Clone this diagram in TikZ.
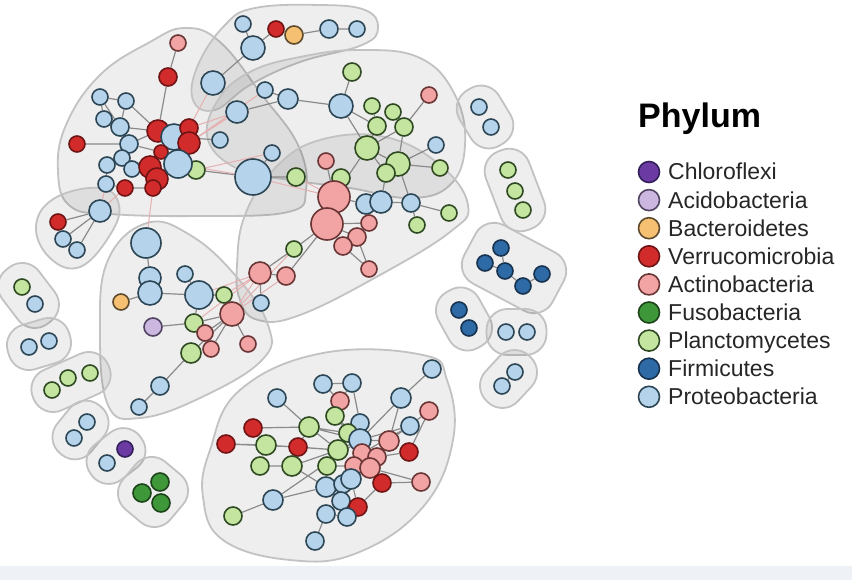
\documentclass[tikz,border=0pt]{standalone}
\usepackage{fontspec}
\newfontfamily\lgfont{Liberation Sans}
\pgfdeclarelayer{blobs}
\pgfdeclarelayer{edges}
\pgfsetlayers{blobs,edges,main}
\definecolor{cPB}{HTML}{B5D3EA}\definecolor{cPBd}{HTML}{2D4656}
\definecolor{cPL}{HTML}{C4E59F}\definecolor{cPLd}{HTML}{2F4A22}
\definecolor{cAC}{HTML}{F2A3A3}\definecolor{cACd}{HTML}{6A3535}
\definecolor{cVE}{HTML}{D22B2B}\definecolor{cVEd}{HTML}{6E1414}
\definecolor{cFI}{HTML}{2E6AA6}\definecolor{cFId}{HTML}{17324F}
\definecolor{cFU}{HTML}{3E983A}\definecolor{cFUd}{HTML}{1C431A}
\definecolor{cBA}{HTML}{F5C071}\definecolor{cBAd}{HTML}{5E4A2C}
\definecolor{cACI}{HTML}{CBB7DF}\definecolor{cACId}{HTML}{514462}
\definecolor{cCH}{HTML}{6B3AA3}\definecolor{cCHd}{HTML}{33205A}
\definecolor{cEdge}{HTML}{8A8A8A}\definecolor{cPinkEdge}{HTML}{E6B0B0}
\definecolor{cBand}{HTML}{EEF2F7}
\begin{document}
\begin{tikzpicture}[x=1pt,y=-1pt,
  nd/.style={circle,inner sep=0pt,minimum size=16pt,line width=1.6pt},
  sz/.style={minimum size=#1},
  pb/.style={nd,fill=cPB,draw=cPBd},
  pl/.style={nd,fill=cPL,draw=cPLd},
  ac/.style={nd,fill=cAC,draw=cACd},
  ve/.style={nd,fill=cVE,draw=cVEd},
  fi/.style={nd,fill=cFI,draw=cFId},
  fu/.style={nd,fill=cFU,draw=cFUd},
  ba/.style={nd,fill=cBA,draw=cBAd},
  aci/.style={nd,fill=cACI,draw=cACId},
  ch/.style={nd,fill=cCH,draw=cCHd},
  ed/.style={draw=cEdge,line width=1.2pt},
  pe/.style={draw=cPinkEdge,line width=1pt},
  blob/.style={fill=black,fill opacity=0.065,draw=black!24,line width=1.8pt},
  lg/.style={font=\lgfont\fontsize{23}{27}\selectfont,text=black!85,anchor=base west,inner sep=0pt}
]
\useasboundingbox (0,0) rectangle (852,580);
\fill[cBand] (0,566) rectangle (852,580);

% ---------------- nodes: cluster A
\node[ac,sz=16] (a1) at (178,43) {};
\node[ve,sz=18] (a2) at (168,77) {};
\node[pb,sz=16] (a3) at (100,97) {};
\node[pb,sz=16] (a4) at (126,101) {};
\node[pb,sz=16] (a5) at (104,119) {};
\node[pb,sz=18] (a6) at (120,127) {};
\node[ve,sz=16] (a7) at (77,144) {};
\node[pb,sz=18] (a8) at (129,144) {};
\node[ve,sz=22] (a9) at (158,131) {};
\node[pb,sz=26] (a10) at (174,137) {};
\node[ve,sz=18] (a11) at (189,128) {};
\node[ve,sz=22] (a12) at (189,143) {};
\node[pb,sz=16] (a13) at (220,140) {};
\node[pb,sz=16] (a15) at (122,158) {};
\node[pb,sz=16] (a16) at (107,165) {};
\node[pb,sz=16] (a17) at (132,169) {};
\node[ve,sz=14] (a14) at (161,152) {};
\node[ve,sz=22] (a18) at (150,167) {};
\node[ve,sz=22] (a21) at (157,179) {};
\node[ve,sz=16] (a22) at (153,188) {};
\node[pl,sz=18] (a20) at (196,170) {};
\node[pb,sz=28] (a19) at (178,164) {};
\node[pb,sz=16] (a23) at (106,184) {};
\node[ve,sz=16] (a24) at (125,188) {};
\node[pb,sz=16] (a25) at (272,153) {};
\node[pb,sz=36] (a26) at (253,177) {};
\node[pl,sz=18] (a27) at (296,177) {};
\node[pb,sz=22] (a28) at (237,112) {};
\node[pb,sz=16] (a29) at (265,90) {};
\node[pb,sz=20] (a30) at (288,99) {};
% cluster T
\node[pb,sz=16] (t1) at (243,24) {};
\node[ve,sz=16] (t2) at (276,29) {};
\node[ba,sz=18] (t3) at (294,35) {};
\node[pb,sz=18] (t4) at (329,29) {};
\node[pb,sz=16] (t5) at (357,29) {};
\node[pb,sz=24] (t6) at (253,48) {};
\node[pb,sz=24] (t7) at (213,83) {};
% cluster M
\node[pl,sz=18] (m1) at (352,72) {};
\node[pb,sz=24] (m2) at (341,106) {};
\node[pl,sz=16] (m3) at (372,106) {};
\node[pl,sz=16] (m4) at (393,112) {};
\node[ac,sz=16] (m5) at (429,95) {};
\node[pl,sz=18] (m6) at (377,126) {};
\node[pl,sz=18] (m7) at (404,127) {};
\node[pl,sz=24] (m8) at (367,148) {};
\node[pb,sz=16] (m9) at (436,145) {};
\node[pl,sz=24] (m10) at (398,164) {};
\node[pl,sz=18] (m11) at (386,173) {};
\node[pl,sz=16] (m12) at (440,168) {};
% cluster C
\node[ac,sz=16] (c1) at (326,161) {};
\node[pl,sz=18] (c2) at (341,178) {};
\node[ac,sz=32] (c3) at (334,197) {};
\node[ac,sz=32] (c4) at (327,224) {};
\node[pb,sz=20] (c5) at (366,204) {};
\node[pb,sz=22] (c6) at (381,202) {};
\node[pb,sz=18] (c7) at (411,203) {};
\node[pl,sz=16] (c8) at (449,213) {};
\node[pl,sz=16] (c9) at (417,225) {};
\node[ac,sz=16] (c10) at (369,223) {};
\node[ac,sz=18] (c11) at (357,237) {};
\node[ac,sz=18] (c12) at (343,246) {};
\node[ac,sz=16] (c13) at (369,269) {};
\node[pl,sz=16] (c14) at (294,249) {};
\node[ac,sz=22] (c15) at (260,273) {};
\node[ac,sz=18] (c16) at (286,276) {};
\node[pb,sz=16] (c17) at (261,303) {};
% cluster D
\node[pb,sz=30] (d1) at (146,243) {};
\node[pb,sz=22] (d2) at (150,278) {};
\node[pb,sz=24] (d3) at (150,293) {};
\node[ba,sz=16] (d4) at (121,302) {};
\node[pb,sz=16] (d5) at (185,274) {};
\node[pb,sz=28] (d6) at (199,295) {};
\node[pl,sz=16] (d7) at (224,295) {};
\node[aci,sz=18] (d8) at (153,327) {};
\node[pl,sz=18] (d9) at (194,323) {};
\node[ac,sz=16] (d10) at (205,333) {};
\node[ac,sz=24] (d11) at (232,314) {};
\node[ac,sz=16] (d12) at (211,349) {};
\node[pl,sz=20] (d13) at (191,353) {};
\node[ac,sz=16] (d14) at (248,344) {};
\node[pb,sz=18] (d15) at (160,386) {};
\node[pb,sz=16] (d16) at (139,407) {};
% cluster B
\node[ve,sz=16] (b1) at (58,222) {};
\node[pb,sz=22] (b2) at (100,211) {};
\node[pb,sz=16] (b3) at (63,239) {};
\node[pb,sz=16] (b4) at (77,250) {};
% cluster E
\node[pb,sz=18] (e1) at (432,369) {};
\node[pb,sz=18] (e2) at (323,384) {};
\node[pb,sz=18] (e3) at (352,383) {};
\node[pb,sz=18] (e4) at (277,398) {};
\node[ac,sz=18] (e5) at (340,401) {};
\node[pb,sz=20] (e6) at (401,398) {};
\node[ac,sz=18] (e7) at (429,411) {};
\node[pl,sz=18] (e8) at (335,416) {};
\node[pb,sz=18] (e9) at (360,423) {};
\node[pb,sz=18] (e10) at (410,426) {};
\node[ve,sz=18] (e11) at (253,428) {};
\node[pl,sz=20] (e12) at (309,427) {};
\node[pl,sz=18] (e13) at (348,433) {};
\node[ve,sz=18] (e14) at (226,444) {};
\node[pl,sz=20] (e15) at (266,445) {};
\node[ve,sz=18] (e16) at (298,447) {};
\node[pl,sz=20] (e17) at (338,450) {};
\node[pb,sz=22] (e18) at (360,440) {};
\node[ac,sz=20] (e19) at (389,441) {};
\node[ve,sz=18] (e20) at (409,452) {};
\node[ac,sz=18] (e21) at (362,453) {};
\node[ac,sz=18] (e22) at (377,457) {};
\node[pl,sz=18] (e23) at (260,466) {};
\node[pl,sz=20] (e24) at (292,466) {};
\node[pl,sz=18] (e25) at (327,466) {};
\node[ac,sz=18] (e26) at (354,466) {};
\node[ac,sz=20] (e27) at (370,468) {};
\node[pb,sz=20] (e28) at (326,487) {};
\node[pb,sz=18] (e30) at (343,484) {};
\node[pb,sz=20] (e29) at (351,479) {};
\node[ve,sz=18] (e31) at (382,483) {};
\node[ac,sz=18] (e32) at (421,482) {};
\node[pb,sz=20] (e33) at (273,500) {};
\node[pb,sz=18] (e34) at (341,501) {};
\node[ve,sz=18] (e35) at (358,507) {};
\node[pb,sz=18] (e36) at (326,514) {};
\node[pb,sz=18] (e37) at (347,517) {};
\node[pl,sz=18] (e38) at (233,516) {};
\node[pb,sz=18] (e39) at (315,541) {};
% small clusters left
\node[pl] (f1a) at (22,287) {};
\node[pb] (f1b) at (35,304) {};
\node[pb] (f2a) at (29,347) {};
\node[pb] (f2b) at (49,341) {};
\node[pl] (f3a) at (52,390) {};
\node[pl] (f3b) at (68,378) {};
\node[pl] (f3c) at (90,373) {};
\node[pb] (f4a) at (74,438) {};
\node[pb] (f4b) at (87,422) {};
\node[pb] (f5a) at (107,463) {};
\node[ch] (f5b) at (125,449) {};
\node[fu,sz=18] (f6a) at (142,493) {};
\node[fu,sz=18] (f6b) at (160,482) {};
\node[fu,sz=18] (f6c) at (161,503) {};
% small clusters right
\node[pb] (r1a) at (479,107) {};
\node[pb] (r1b) at (491,127) {};
\node[pl] (r2a) at (508,170) {};
\node[pl] (r2b) at (515,191) {};
\node[pl] (r2c) at (523,210) {};
\node[fi] (r3a) at (501,248) {};
\node[fi] (r3b) at (485,263) {};
\node[fi] (r3c) at (505,271) {};
\node[fi] (r3d) at (523,286) {};
\node[fi] (r3e) at (542,274) {};
\node[fi] (r4a) at (459,310) {};
\node[fi] (r4b) at (469,328) {};
\node[pb] (r5a) at (506,332) {};
\node[pb] (r5b) at (527,332) {};
\node[pb] (r6a) at (515,372) {};
\node[pb] (r6b) at (502,386) {};

% ---------------- edges
\begin{pgfonlayer}{edges}
\draw[ed] (a2)--(a1) (a2)--(a9) (a3)--(a4) (a3)--(a5) (a3)--(a6) (a4)--(a6)
  (a4)--(a9) (a5)--(a6) (a5)--(a8) (a6)--(a8) (a6)--(a9) (a7)--(a8) (a8)--(a9)
  (a8)--(a15) (a8)--(a14) (a15)--(a16) (a15)--(a17) (a15)--(a18) (a16)--(a23)
  (a17)--(a18) (a17)--(a21) (a23)--(a24) (a24)--(a22) (a10)--(a13) (a19)--(a20)
  (a20)--(a26) (a26)--(a25) (a26)--(a27) (a28)--(a30) (a29)--(a30) (a9)--(a10);
\draw[pe] (a11)--(a28) (a12)--(a28) (a12)--(a29) (a11)--(t7) (a19)--(a26)
  (a26)--(c3) (a27)--(c3) (a20)--(a25) (a22)--(d1) (a23)--(b2) (a24)--(b2);
\draw[ed] (t1)--(t6) (t6)--(t2) (t2)--(t3) (t3)--(t4) (t4)--(t5) (t6)--(t7);
\draw[ed] (m1)--(m2) (a30)--(m2) (m2)--(m6) (m2)--(m8) (m3)--(m6) (m4)--(m7)
  (m6)--(m8) (m7)--(m8) (m5)--(m7) (m7)--(m10) (m8)--(m10) (m8)--(m11)
  (m10)--(m9) (m10)--(m12) (m10)--(m11) (m8)--(c3) (m11)--(c6) (m10)--(c7);
\draw[ed] (c3)--(c1) (c3)--(c2) (c3)--(c4) (c3)--(c5) (c5)--(c6) (c6)--(c7)
  (c7)--(c8) (c7)--(c9) (c4)--(c10) (c4)--(c11) (c4)--(c12) (c11)--(c13)
  (c10)--(c11) (c12)--(c13) (c4)--(c14) (c14)--(c15) (c15)--(c16) (c4)--(c16)
  (c15)--(c17);
\draw[ed] (d1)--(d2) (d2)--(d3) (d3)--(d4) (d3)--(d6) (d5)--(d6) (d6)--(d7)
  (d8)--(d9) (d6)--(d9) (d9)--(d11) (d11)--(d10) (d11)--(d12) (d11)--(d14)
  (d13)--(d11) (d13)--(d15) (d15)--(d16) (d12)--(d10);
\draw[pe] (d11)--(c15) (d7)--(c15) (d11)--(c16) (d6)--(c15) (d11)--(c14) (d9)--(c15);
\draw[ed] (b1)--(b2) (b3)--(b2) (b4)--(b2);
\draw[ed] (e1)--(e6) (e2)--(e3) (e2)--(e5) (e3)--(e5) (e3)--(e9) (e4)--(e12)
  (e5)--(e8) (e8)--(e13) (e6)--(e19) (e6)--(e18) (e7)--(e19) (e9)--(e18)
  (e10)--(e18) (e10)--(e21) (e11)--(e12) (e11)--(e15) (e14)--(e15) (e12)--(e16)
  (e12)--(e17) (e12)--(e13) (e12)--(e18) (e16)--(e17) (e15)--(e23) (e15)--(e17)
  (e17)--(e24) (e17)--(e18) (e17)--(e25) (e18)--(e19) (e18)--(e21) (e19)--(e22)
  (e20)--(e22) (e20)--(e7) (e21)--(e26) (e22)--(e27) (e24)--(e28) (e23)--(e24)
  (e25)--(e26) (e26)--(e29) (e27)--(e31) (e28)--(e29) (e28)--(e33) (e29)--(e30)
  (e30)--(e34) (e31)--(e32) (e33)--(e38) (e33)--(e18) (e34)--(e35) (e34)--(e36)
  (e36)--(e37) (e36)--(e39) (e29)--(e35) (e27)--(e32) (e8)--(e18) (e14)--(e16)
  (e9)--(e21) (e13)--(e27) (e31)--(e35);
\draw[ed] (r3a)--(r3c) (r3b)--(r3c) (r3c)--(r3d) (r3d)--(r3e) (r6a)--(r6b);
\end{pgfonlayer}

% ---------------- cluster hulls
\begin{pgfonlayer}{blobs}
\draw[blob] plot[smooth cycle,tension=0.7] coordinates {(58,172) (66,125) (100,75) (150,42) (185,28) (220,42) (262,95) (298,145) (306,190) (288,212) (200,216) (110,214) (70,206)};
\draw[blob] plot[smooth cycle,tension=0.7] coordinates {(193,100) (198,65) (225,25) (255,8) (320,5) (365,10) (378,28) (362,45) (300,62) (250,85) (215,110)};
\draw[blob] plot[smooth cycle,tension=0.7] coordinates {(208,140) (218,100) (250,72) (300,57) (360,50) (420,58) (455,95) (465,145) (450,185) (410,198) (350,188) (290,180) (240,170)};
\draw[blob] plot[smooth cycle,tension=0.7] coordinates {(237,265) (245,215) (275,168) (320,140) (385,137) (440,165) (468,205) (450,232) (380,275) (300,315) (258,320) (240,300)};
\draw[blob] plot[smooth cycle,tension=0.7] coordinates {(100,330) (108,260) (147,223) (190,235) (235,275) (268,325) (262,360) (200,398) (140,418) (108,405)};
\draw[blob] plot[smooth cycle,tension=0.7] coordinates {(36,226) (55,198) (100,188) (119,205) (110,235) (80,267) (50,258)};
\draw[blob] plot[smooth cycle,tension=0.7] coordinates {(210,450) (240,390) (323,353) (423,355) (447,380) (453,440) (423,507) (357,553) (290,560) (223,540) (203,497)};
\foreach \cx/\cy/\ang/\L/\W in {28.5/295.5/52.6/68/46, 39/344/-16.7/64/46, 71/382/-24/82/44,
  80.5/430/-51/62/44, 116/456/-38/62/44, 153/492/40/62/62,
  485/117/59/64/46, 515/190/69/84/46, 514/268/28/100/66, 464/319/61/64/46,
  516.5/332/0/60/46, 508.5/379/-47/62/44}{
  \begin{scope}[shift={(\cx,\cy)},rotate=-\ang]
    \draw[blob,rounded corners=21pt] (-\L/2,-\W/2) rectangle (\L/2,\W/2);
  \end{scope}
}
\end{pgfonlayer}

% ---------------- legend
\node[anchor=base west,inner sep=0pt,font=\lgfont\bfseries\fontsize{34}{38}\selectfont] (ttl) at (638,128) {Phylum};
\foreach \i/\st/\lab in {0/ch/Chloroflexi,1/aci/Acidobacteria,2/ba/Bacteroidetes,
  3/ve/Verrucomicrobia,4/ac/Actinobacteria,5/fu/Fusobacteria,6/pl/Planctomycetes,
  7/fi/Firmicutes,8/pb/Proteobacteria}{
  \node[\st,sz=21] (lc\i) at (649,172+28.1*\i) {};
  \node[lg] (lt\i) at (668,180+28.1*\i) {\lab};
}
\end{tikzpicture}
\end{document}
